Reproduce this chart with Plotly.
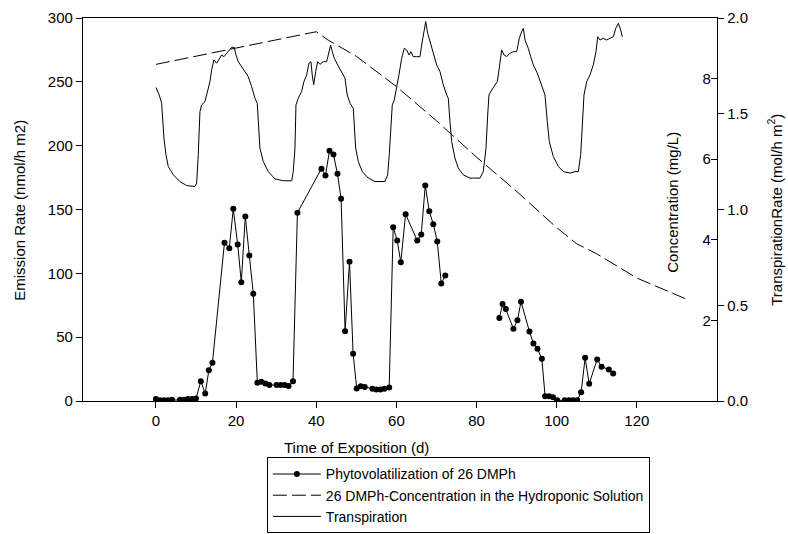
import plotly.graph_objects as go

# ---------------- data ----------------
# Phytovolatilization of 26 DMPh (emission rate, nmol/h m2) vs time (d)
em_day = [0, 1, 2, 3, 4, 6, 7, 8, 9, 10,
          11.2, 12.3, 13.2, 14.1,
          17.1, 18.3, 19.3, 20.4, 21.3, 22.3, 23.3, 24.3,
          25.3, 26.3, 27.3, 28.3,
          30.1, 31.1, 32.1, 33.1, 34.2,
          35.3,
          41.3, 42.3, 43.3, 44.3, 45.3, 46.2, 47.2, 48.3, 49.2, 50.1, 51.1, 52.1,
          54, 55, 56, 57, 58.2,
          59.2, 60.2, 61.1, 62.3,
          65.2, 66.2, 67.2, 68.2, 69.2, 70.2, 71.2, 72.2,
          None,
          85.7, 86.5, 87.3, 89.2, 90.2, 91.1, 93.2, 94.2, 95.2, 96.3, 97.1, 98.1, 99.1, 100.1,
          102, 103.1, 104.1, 105.1, 106.1, 107.1, 108.1, 110.1, 111.2, 113, 114.1]
em_val = [1.5, 0.5, 0.5, 0.5, 1, 1, 1, 1.5, 1.5, 2,
          15.5, 5.8, 24, 30,
          124, 119.7, 150.5, 122.6, 93, 144.5, 114, 84,
          14.3, 15, 13.7, 12.5,
          12.5, 12.5, 12.5, 11.7, 15.5,
          147.4,
          182, 176.6, 196, 193, 178, 158.4, 54.7, 109, 37, 9.8, 11.6, 11,
          9.5, 9, 9, 9.5, 10.5,
          136, 125.7, 108.7, 146.3,
          125.7, 130.4, 168.8, 148.7, 138.5, 125, 92, 98.3,
          None,
          65, 76, 72, 56.5, 63.3, 77.7, 54.4, 45, 40.9, 33, 3.8, 3.8, 3, 0.5,
          0.5, 0.5, 0.5, 0.5, 6.9, 33.8, 13.5, 32.5, 26.8, 24.7, 21.5]

# 26 DMPh concentration in the hydroponic solution (mg/L)
conc_day = [0, 40, 43, 50, 60, 70, 80, 90, 100, 105, 110, 120, 133]
conc_val = [8.35, 9.16, 8.95, 8.55, 7.8, 6.95, 6.05, 5.2, 4.3, 3.9, 3.65, 3.05, 2.5]

# Transpiration rate (mol/h m2)
tr_day = [0.0, 0.82, 1.42, 1.67, 2.0, 2.5, 3.07, 4.32, 5.99, 7.66, 9.73, 10.16, 10.56, 10.98,
          11.4, 12.23, 13.05, 13.48, 13.9, 14.47, 15.15, 15.72, 16.4, 16.97, 17.64, 18.47,
          18.89, 19.54, 19.97, 20.54, 21.39, 22.21, 23.03, 23.88, 24.71, 25.28, 25.53, 25.95,
          26.78, 28.03, 29.7, 31.77, 33.87, 34.26, 34.69, 34.94, 35.51, 36.36, 36.93, 37.61,
          38.18, 38.68, 39.0, 39.36, 39.86, 40.35, 40.93, 41.75, 42.6, 43.17, 43.6, 44.0,
          44.5, 45.35, 46.34, 47.17, 47.74, 48.42, 49.24, 49.49, 49.84, 50.49, 51.49, 52.98,
          54.65, 57.15, 57.82, 58.22, 58.65, 58.97, 59.47, 60.07, 60.64, 61.32, 61.97, 62.57,
          63.14, 63.64, 64.21, 65.06, 65.89, 66.31, 66.81, 67.31, 67.81, 68.38, 69.2, 70.05,
          70.88, 71.7, 72.55, 72.95, 73.37, 73.8, 74.62, 75.44, 76.69, 78.36, 79.19, 80.86,
          81.68, 82.36, 82.78, 83.1, 83.78, 84.6, 85.18, 85.67, 86.27, 86.85, 87.52, 88.35,
          89.17, 90.02, 90.67, 91.27, 91.67, 92.09, 92.91, 93.51, 94.16, 95.16, 96.26, 97.08,
          97.65, 98.15, 99.15, 100.4, 101.65, 103.32, 104.57, 105.39, 105.99, 106.49, 106.81,
          107.49, 108.31, 109.13, 109.81, 110.23, 110.81, 111.63, 112.48, 113.3, 114.13,
          114.73, 115.38, 115.98, 116.37]
tr_val = [1.637, 1.598, 1.555, 1.477, 1.373, 1.286, 1.225, 1.181, 1.146, 1.125, 1.120, 1.138,
          1.286, 1.511, 1.546, 1.563, 1.624, 1.668, 1.729, 1.781, 1.764, 1.781, 1.807, 1.798,
          1.816, 1.833, 1.847, 1.847, 1.807, 1.772, 1.746, 1.720, 1.694, 1.642, 1.581, 1.555,
          1.442, 1.320, 1.251, 1.198, 1.160, 1.150, 1.150, 1.198, 1.320, 1.546, 1.581, 1.616,
          1.668, 1.703, 1.764, 1.772, 1.703, 1.651, 1.720, 1.772, 1.758, 1.772, 1.772, 1.816,
          1.859, 1.824, 1.790, 1.755, 1.720, 1.686, 1.598, 1.555, 1.529, 1.442, 1.320, 1.251,
          1.198, 1.164, 1.146, 1.146, 1.181, 1.286, 1.459, 1.546, 1.572, 1.633, 1.703, 1.790,
          1.842, 1.833, 1.807, 1.824, 1.798, 1.798, 1.798, 1.859, 1.929, 1.981, 1.920, 1.877,
          1.824, 1.755, 1.720, 1.651, 1.598, 1.581, 1.459, 1.355, 1.268, 1.216, 1.181, 1.164,
          1.164, 1.164, 1.198, 1.320, 1.494, 1.598, 1.624, 1.651, 1.668, 1.738, 1.833, 1.807,
          1.798, 1.816, 1.824, 1.824, 1.894, 1.929, 1.946, 1.885, 1.842, 1.798, 1.755, 1.712,
          1.651, 1.598, 1.459, 1.355, 1.277, 1.225, 1.198, 1.190, 1.198, 1.198, 1.286, 1.442,
          1.598, 1.668, 1.703, 1.755, 1.824, 1.902, 1.885, 1.894, 1.885, 1.894, 1.902, 1.946,
          1.972, 1.937, 1.902]

x_ticks = [0, 20, 40, 60, 80, 100, 120, 140]
em_ticks = [0, 50, 100, 150, 200, 250, 300]
conc_ticks = [0, 2, 4, 6, 8]
tr_ticks = [0, 0.5, 1.0, 1.5, 2.0]

# ---------------- figure ----------------
FONT = "Arial, 'Liberation Sans', sans-serif"
fig = go.Figure()

fig.add_trace(go.Scatter(
    x=em_day, y=em_val, mode="lines+markers", name="Phytovolatilization of 26 DMPh",
    line=dict(color="black", width=1), marker=dict(color="black", size=6),
    connectgaps=False, yaxis="y"))
fig.add_trace(go.Scatter(
    x=conc_day, y=conc_val, mode="lines", name="26 DMPh-Concentration in the Hydroponic Solution",
    line=dict(color="black", width=1, dash="14px,5px"), yaxis="y2"))
fig.add_trace(go.Scatter(
    x=tr_day, y=tr_val, mode="lines", name="Transpiration",
    line=dict(color="black", width=1), yaxis="y3"))

axis_common = dict(showgrid=False, zeroline=False, showline=True, linecolor="black",
                   linewidth=1.3, tickcolor="black", tickwidth=1.3, ticklen=6,
                   tickfont=dict(family=FONT, size=15, color="black"))

fig.update_layout(
    width=788, height=534,
    margin=dict(l=83, r=71, t=18, b=132.5, pad=0, autoexpand=False),
    paper_bgcolor="white", plot_bgcolor="white",
    font=dict(family=FONT, size=15, color="black"),
    showlegend=True,
    legend=dict(x=0.29, y=-0.1473, xanchor="left", yanchor="top",
                bordercolor="black", borderwidth=1, bgcolor="white",
                font=dict(family=FONT, size=14, color="black"),
                tracegroupgap=0, itemwidth=48),
    xaxis=dict(range=[-18.2, 140], tickvals=x_ticks, ticks="outside", mirror=True,
               **axis_common),
    yaxis=dict(range=[0, 300], tickvals=em_ticks, ticks="outside", **axis_common),
    yaxis2=dict(range=[0, 9.5], tickvals=conc_ticks, ticks="inside",
                ticklabelposition="inside", ticksuffix="\u00a0\u00a0\u00a0\u00a0",
                overlaying="y", side="right", anchor="x", **axis_common),
    yaxis3=dict(range=[0, 2.0], tickvals=tr_ticks, tickformat=".1f", ticks="outside",
                overlaying="y", side="right", anchor="x", **axis_common),
    annotations=[
        dict(text="Time of Exposition (d)", xref="paper", yref="paper", x=0.432, y=-0.1213,
             xanchor="center", yanchor="middle", showarrow=False, font=dict(size=15)),
        dict(text="Emission Rate (nmol/h m2)", xref="paper", yref="paper", x=-0.0994, y=0.4993,
             xanchor="center", yanchor="middle", showarrow=False, textangle=-90,
             font=dict(size=15)),
        dict(text="Concentration (mg/L)", xref="paper", yref="paper", x=0.9306, y=0.5176,
             xanchor="center", yanchor="middle", showarrow=False, textangle=-90,
             font=dict(size=15)),
        dict(text="TranspirationRate (mol/h m<sup>2</sup>)", xref="paper", yref="paper",
             x=1.0915, y=0.4993, xanchor="center", yanchor="middle", showarrow=False,
             textangle=-90, font=dict(size=15)),
    ],
)

fig.write_html("out.html", config={"displayModeBar": False},
               post_script="document.body.style.margin='0';document.body.style.overflow='hidden';")
